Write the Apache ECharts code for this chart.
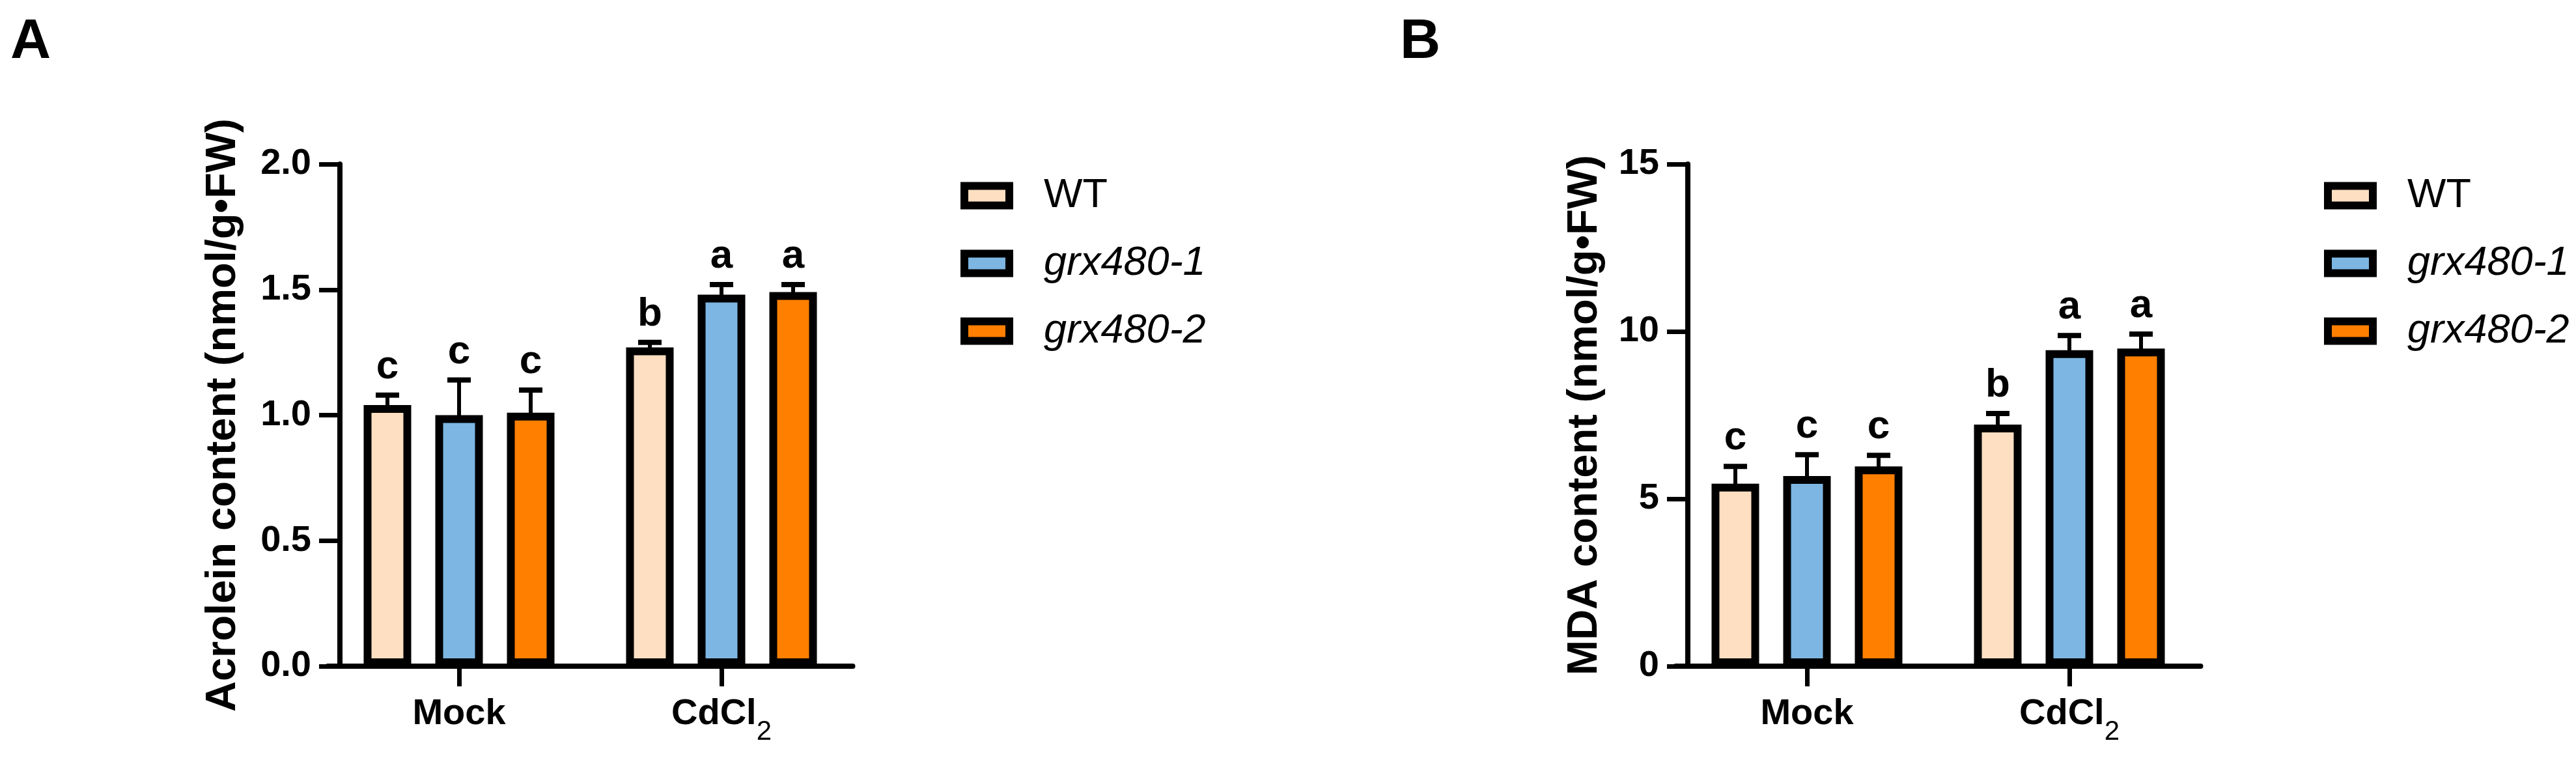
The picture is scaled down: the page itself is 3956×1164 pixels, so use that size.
<!DOCTYPE html>
<html><head><meta charset="utf-8">
<script src="https://cdn.jsdelivr.net/npm/echarts@6/dist/echarts.min.js"></script>
<style>html,body{margin:0;padding:0;background:#fff}#c{width:3956px;height:1164px}</style>
</head><body><div id="c"></div>
<script>
// ---------- DATA ----------
const categories = ['Mock', 'CdCl2'];
const genotypes = ['WT', 'grx480-1', 'grx480-2'];

// Panel A: Acrolein content (nmol/g·FW)
const acroleinWT = [1.04, 1.27];
const acroleinGrx1 = [1.00, 1.48];
const acroleinGrx2 = [1.01, 1.49];
const acroleinErrWT = [0.04, 0.02];
const acroleinErrGrx1 = [0.14, 0.04];
const acroleinErrGrx2 = [0.09, 0.03];
const acroleinLettersWT = ['c', 'b'];
const acroleinLettersGrx1 = ['c', 'a'];
const acroleinLettersGrx2 = ['c', 'a'];
const acroleinAxis = [0, 2, 0.5];       // min, max, interval
const acroleinTitle = 'Acrolein content (nmol/g\u2022FW)';

// Panel B: MDA content (nmol/g·FW)
const mdaWT = [5.45, 7.22];
const mdaGrx1 = [5.68, 9.44];
const mdaGrx2 = [5.97, 9.49];
const mdaErrWT = [0.52, 0.33];
const mdaErrGrx1 = [0.64, 0.44];
const mdaErrGrx2 = [0.33, 0.43];
const mdaLettersWT = ['c', 'b'];
const mdaLettersGrx1 = ['c', 'a'];
const mdaLettersGrx2 = ['c', 'a'];
const mdaAxis = [0, 15, 5];
const mdaTitle = 'MDA content (nmol/g\u2022FW)';

const panelLabels = ['A', 'B'];

// ---------- STYLE ----------
const FONT = '"Liberation Sans", Arial, Helvetica, sans-serif';
const COLORS = ['#FEDFC1', '#7DB6E2', '#FF7F00'];
const BAR_W = 73, BAR_GAP = 0.507, BORDER = 12;

function errRender(pos, letters) {
  return function (params, api) {
    const xi = api.value(0), m = api.value(1), e = api.value(2);
    const off = (pos - 1) * BAR_W * (1 + BAR_GAP);
    const p0 = api.coord([xi, m]);
    const p1 = api.coord([xi, m + e]);
    const x = p0[0] + off;
    return {
      type: 'group',
      children: [
        { type: 'line', shape: { x1: x, y1: p0[1] + 4, x2: x, y2: p1[1] }, style: { stroke: '#000', lineWidth: 6 } },
        { type: 'line', shape: { x1: x - 18, y1: p1[1], x2: x + 18, y2: p1[1] }, style: { stroke: '#000', lineWidth: 8 } },
        { type: 'text', x: x, y: p1[1] - 12,
          style: { text: letters[params.dataIndex], fill: '#000', font: 'bold 62px ' + FONT, align: 'center', verticalAlign: 'bottom' } }
      ]
    };
  };
}

function panel(idx, gridLeft, axis, title, nameGap, means, errs, letters) {
  const series = [];
  means.forEach((vals, i) => {
    series.push({
      name: genotypes[i], type: 'bar', xAxisIndex: idx, yAxisIndex: idx,
      barWidth: BAR_W, barGap: (BAR_GAP * 100) + '%',
      itemStyle: { color: COLORS[i], borderColor: '#000', borderWidth: BORDER },
      data: vals, z: 2, silent: true
    });
  });
  means.forEach((vals, i) => {
    series.push({
      name: 'err-' + idx + '-' + i, type: 'custom', xAxisIndex: idx, yAxisIndex: idx, z: 3, silent: true,
      renderItem: errRender(i, letters[i]),
      data: vals.map((v, k) => [k, v, errs[i][k]])
    });
  });
  const grid = { left: gridLeft, top: 252, width: 806, height: 771 };
  const xAxis = {
    type: 'category', gridIndex: idx, data: categories,
    axisLine: { lineStyle: { color: '#000', width: 8 } },
    axisTick: { show: true, alignWithLabel: true, interval: 0, length: 31, lineStyle: { color: '#000', width: 7 } },
    axisLabel: {
      interval: 0, hideOverlap: false,
      margin: 44, color: '#000', fontSize: 56, fontWeight: 'bold', fontFamily: FONT, lineHeight: 60,
      formatter: v => v.replace(/(\d)$/, '{sub|$1}'),
      rich: { sub: { fontSize: 42, fontWeight: 'normal', fontFamily: FONT, color: '#000', lineHeight: 24, padding: [36, 0, 0, 0], verticalAlign: 'top' } }
    }
  };
  const yAxis = {
    type: 'value', gridIndex: idx, min: axis[0], max: axis[1], interval: axis[2], offset: -18.5,
    name: title, nameLocation: 'middle', nameGap: nameGap, nameRotate: 90,
    nameTextStyle: { fontSize: 65, fontWeight: 'bold', fontFamily: FONT, color: '#000' },
    axisLine: { show: true, lineStyle: { color: '#000', width: 8 } },
    axisTick: { show: true, length: 32, lineStyle: { color: '#000', width: 7 } },
    splitLine: { show: false },
    axisLabel: {
      margin: 44, color: '#000', fontSize: 56, fontWeight: 'bold', fontFamily: FONT,
      formatter: v => axis[2] < 1 ? v.toFixed(1) : String(v)
    }
  };
  return { grid, xAxis, yAxis, series };
}

const pA = panel(0, 503.5, acroleinAxis, acroleinTitle, 146,
  [acroleinWT, acroleinGrx1, acroleinGrx2],
  [acroleinErrWT, acroleinErrGrx1, acroleinErrGrx2],
  [acroleinLettersWT, acroleinLettersGrx1, acroleinLettersGrx2]);
const pB = panel(1, 2573.5, mdaAxis, mdaTitle, 125,
  [mdaWT, mdaGrx1, mdaGrx2],
  [mdaErrWT, mdaErrGrx1, mdaErrGrx2],
  [mdaLettersWT, mdaLettersGrx1, mdaLettersGrx2]);

function legend(left) {
  return {
    orient: 'vertical', left: left, top: 264, icon: 'rect', itemWidth: 69, itemHeight: 30, itemGap: 41,
    selectedMode: false, data: genotypes,
    itemStyle: { borderWidth: BORDER, borderColor: '#000' },
    textStyle: {
      fontSize: 63, lineHeight: 63, fontFamily: FONT, color: '#000', padding: [0, 0, 0, 48],
      rich: { it: { fontStyle: 'italic', fontSize: 63, lineHeight: 63, fontFamily: FONT, color: '#000' } }
    },
    formatter: n => n === 'WT' ? n : '{it|' + n + '}'
  };
}

const chart = echarts.init(document.getElementById('c'), null, { renderer: 'canvas' });
chart.setOption({
  backgroundColor: '#fff',
  animation: false,
  grid: [pA.grid, pB.grid],
  xAxis: [pA.xAxis, pB.xAxis],
  yAxis: [pA.yAxis, pB.yAxis],
  legend: [legend(1470), legend(3564)],
  series: pA.series.concat(pB.series),
  graphic: [
    { type: 'text', left: 16, top: 22, style: { text: panelLabels[0], font: 'bold 86px ' + FONT, fill: '#000' } },
    { type: 'text', left: 2150, top: 22, style: { text: panelLabels[1], font: 'bold 86px ' + FONT, fill: '#000' } }
  ]
});
</script>
</body></html>
